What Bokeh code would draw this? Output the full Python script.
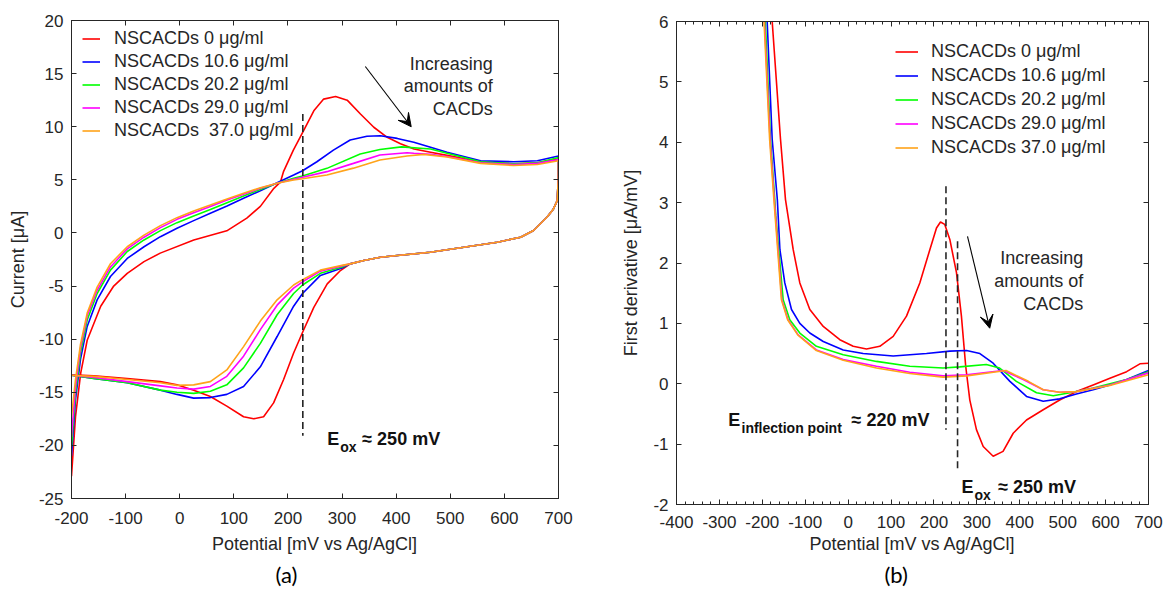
from bokeh.plotting import figure
from bokeh.models import (Range1d, LinearAxis, FixedTicker, Legend, LegendItem,
                          Label, Arrow, VeeHead, Title)
from bokeh.embed import file_html
from bokeh.resources import INLINE
from bokeh.core.properties import value

FONT = "Liberation Sans"
AX = "#262626"

colors = ["#ff0000", "#0000ff", "#00ff00", "#ff00ff", "#ffa31a"]
labels_a = ["NSCACDs 0 μg/ml", "NSCACDs 10.6 μg/ml", "NSCACDs 20.2 μg/ml",
            "NSCACDs 29.0 μg/ml", "NSCACDs  37.0 μg/ml"]
labels_b = ["NSCACDs 0 μg/ml", "NSCACDs 10.6 μg/ml", "NSCACDs 20.2 μg/ml",
            "NSCACDs 29.0 μg/ml", "NSCACDs 37.0 μg/ml"]

# ---------------- panel (a): cyclic voltammograms ----------------
xticks_a = [-200, -100, 0, 100, 200, 300, 400, 500, 600, 700]
xticklabels_a = ["-200", "-100", "0", "100", "200", "300", "400", "500", "600", "700"]
yticks_a = [-25, -20, -15, -10, -5, 0, 5, 10, 15, 20]
yticklabels_a = ["-25", "-20", "-15", "-10", "-5", "0", "5", "10", "15", "20"]

# shared return (lower) branch from 700 mV down to ~315 mV
lower_common_x = [699.5, 697.6, 690, 679, 665, 654, 630, 587, 525, 463, 402, 371, 340, 315]
lower_common_y = [5.0, 3.05, 2.2, 1.5, 0.8, 0.23, -0.4, -0.87, -1.35, -1.82, -2.13, -2.29, -2.6, -2.91]

red_up_x = [-200, -192.6, -183, -171, -146, -122, -97, -66, -36, 26, 87, 124, 149, 174, 186, 192,
            210, 227.5, 247.8, 266, 288, 309.5, 334, 358.7, 383.4, 408, 433, 463.5, 494, 556, 617, 661, 700]
red_up_y = [-22.9, -17.3, -13.2, -10.1, -6.9, -5.0, -3.8, -2.7, -1.9, -0.66, 0.2, 1.4, 2.5, 4.2, 4.78, 5.8,
            7.8, 9.5, 11.5, 12.6, 12.84, 12.5, 11.2, 9.95, 9.0, 8.4, 7.9, 7.6, 7.3, 6.7, 6.5, 6.6, 6.95]
red_lo_x = [297, 272.6, 247.8, 227.5, 210.5, 192, 173.5, 155, 136.6, 118, 87, 56.6, 25.8, -5, -35.7,
            -97, -158.8, -200]
red_lo_y = [-3.54, -4.8, -7.0, -9.3, -11.3, -13.8, -16.0, -17.3, -17.5, -17.3, -16.3, -15.4, -14.8,
            -14.3, -14.0, -13.7, -13.45, -13.35]

blue_up_x = [-200, -192.6, -183.4, -171, -152.6, -128, -97, -66, -35.7, -5, 25.8, 56.6, 87.4, 118, 149,
             180, 210.5, 227, 253.5, 284, 315, 346, 371, 402, 432.6, 463.5, 494, 556, 617, 661, 700]
blue_up_y = [-21.0, -15.7, -11.9, -8.8, -6.3, -4.1, -2.4, -1.3, -0.35, 0.44, 1.16, 1.85, 2.54, 3.26, 3.98,
             4.73, 5.45, 5.86, 6.7, 7.8, 8.75, 9.1, 9.15, 8.9, 8.54, 8.07, 7.6, 6.8, 6.7, 6.8, 7.25]
blue_lo_x = [300, 260, 227, 210.5, 180, 149, 118, 87, 56.6, 25.8, -5, -35.7, -97, -158.8, -200]
blue_lo_y = [-3.3, -4.0, -5.7, -6.9, -9.75, -12.6, -14.45, -15.2, -15.5, -15.55, -15.2, -14.8, -14.1,
             -13.7, -13.4]

green_up_x = [-200, -192.6, -183.4, -171, -152.6, -128, -97, -66, -35.7, -5, 25.8, 56.6, 87.4, 118, 149,
              180, 210.5, 227, 272, 333.5, 370, 410, 463.5, 494, 556, 617, 661, 700]
green_up_y = [-20.1, -15.1, -11.3, -8.2, -5.7, -3.5, -1.75, -0.66, 0.22, 0.97, 1.6, 2.2, 2.85, 3.48, 4.1,
              4.67, 5.14, 5.36, 6.08, 7.43, 7.85, 8.1, 7.9, 7.5, 6.7, 6.5, 6.6, 7.1]
green_lo_x = [300, 260, 227, 210.5, 180, 149, 118, 87, 56.6, 25.8, -5, -35.7, -97, -158.8, -200]
green_lo_y = [-3.2, -3.8, -4.9, -5.7, -7.7, -10.4, -12.7, -14.3, -14.9, -15.1, -15.0, -14.8, -14.1,
              -13.7, -13.4]

magenta_up_x = [-200, -192.6, -183.4, -171, -152.6, -128, -97, -66, -35.7, -5, 25.8, 56.6, 87.4, 118, 149,
                180, 210.5, 227, 272, 321, 370, 420, 432.6, 463.5, 494, 556, 617, 661, 700]
magenta_up_y = [-19.2, -14.5, -10.85, -7.8, -5.4, -3.2, -1.5, -0.4, 0.5, 1.28, 1.9, 2.5, 3.1, 3.64, 4.2,
                4.67, 5.05, 5.24, 5.77, 6.55, 7.34, 7.55, 7.5, 7.4, 7.2, 6.6, 6.45, 6.55, 6.9]
magenta_lo_x = [300, 260, 227, 210.5, 180, 149, 118, 87, 56.6, 25.8, -5, -35.7, -97, -158.8, -200]
magenta_lo_y = [-3.1, -3.6, -4.6, -5.2, -6.8, -9.1, -11.6, -13.5, -14.45, -14.7, -14.6, -14.4, -14.0,
                -13.6, -13.4]

orange_up_x = [-200, -192.6, -183.4, -171, -152.6, -128, -97, -66, -35.7, -5, 25.8, 56.6, 87.4, 118, 149,
               180, 210.5, 227, 272, 321, 370, 420, 451, 494, 556, 617, 661, 700]
orange_up_y = [-17.3, -13.8, -10.5, -7.55, -5.1, -2.9, -1.3, -0.2, 0.69, 1.44, 2.07, 2.63, 3.2, 3.73, 4.26,
               4.67, 4.98, 5.1, 5.45, 6.1, 6.87, 7.24, 7.4, 7.15, 6.55, 6.35, 6.45, 6.8]
orange_lo_x = [300, 260, 227, 210.5, 180, 149, 118, 87, 56.6, 25.8, -5, -35.7, -97, -158.8, -200]
orange_lo_y = [-3.05, -3.5, -4.4, -4.9, -6.3, -8.3, -10.7, -12.9, -14.0, -14.3, -14.35, -14.1, -13.8,
               -13.5, -13.4]

# annotation anchors (data units) for panel (a)
eox_a_x = 227.5
eox_a_y = [11.2, -19.1]

# ---------------- panel (b): first derivative ----------------
xticks_b = [-400, -300, -200, -100, 0, 100, 200, 300, 400, 500, 600, 700]
xticklabels_b = ["-400", "-300", "-200", "-100", "0", "100", "200", "300", "400", "500", "600", "700"]
xminor_b = list(range(-400, 701, 20))
yticks_b = [-2, -1, 0, 1, 2, 3, 4, 5, 6]
yticklabels_b = ["-2", "-1", "0", "1", "2", "3", "4", "5", "6"]

red_d_x = [-177, -157.6, -146, -128, -112.6, -89.3, -58, -19.4, 11.8, 42.8, 73.8, 105, 136, 167, 190.4,
           205.9, 215.2, 225, 237, 252.5, 264, 274, 283.6, 299, 314.8, 338, 361, 384.7, 415.7, 454.6,
           493, 532, 571, 610, 649, 680, 700]
red_d_y = [6.0, 4.05, 3.05, 2.22, 1.67, 1.23, 0.95, 0.73, 0.62, 0.576, 0.62, 0.785, 1.12, 1.67, 2.22,
           2.58, 2.68, 2.64, 2.39, 1.84, 1.12, 0.29, -0.27, -0.76, -1.04, -1.2, -1.12, -0.82, -0.6, -0.43,
           -0.27, -0.13, -0.02, 0.09, 0.2, 0.33, 0.34]

blue_d_x = [-188.7, -177, -165, -159, -147.6, -132, -112.6, -89.3, -58, -11.5, 35, 105, 182.6, 237, 276,
            307, 338, 377, 415.7, 454.6, 493, 532, 571, 610, 649, 700]
blue_d_y = [6.0, 4.05, 3.05, 2.22, 1.67, 1.23, 1.0, 0.84, 0.70, 0.56, 0.50, 0.46, 0.50, 0.54, 0.55,
            0.50, 0.34, 0.04, -0.21, -0.29, -0.25, -0.17, -0.10, -0.02, 0.07, 0.22]

green_d_x = [-193, -181, -171, -168.6, -151.4, -136, -112.6, -74, -11.5, 66, 143.7, 221.5, 260, 322, 353,
             392, 439, 478, 517, 571, 649, 700]
green_d_y = [6.0, 4.05, 3.05, 2.78, 1.39, 1.06, 0.84, 0.62, 0.48, 0.37, 0.29, 0.26, 0.28, 0.32, 0.26,
             0.04, -0.15, -0.2, -0.15, -0.07, 0.07, 0.2]

magenta_d_x = [-195, -182, -172, -154.5, -140, -116.5, -74, -11.5, 66, 143.7, 221.5, 276, 361, 408,
               454.6, 493, 532, 610, 700]
magenta_d_y = [6.0, 4.05, 3.05, 1.39, 1.06, 0.81, 0.56, 0.40, 0.29, 0.19, 0.13, 0.15, 0.22, 0.07,
               -0.10, -0.14, -0.13, -0.02, 0.18]

orange_d_x = [-196, -183, -173, -155.5, -141, -117.5, -74, -11.5, 66, 143.7, 221.5, 276, 368, 420,
              454.6, 493, 532, 610, 700]
orange_d_y = [6.0, 4.05, 3.05, 1.39, 1.06, 0.81, 0.55, 0.39, 0.26, 0.17, 0.11, 0.13, 0.22, 0.04,
              -0.10, -0.14, -0.13, -0.03, 0.15]

infl_b_x = 228
infl_b_y = [3.27, -0.76]
eox_b_x = 255
eox_b_y = [2.36, -1.46]


def style_axis(ax, show_labels=True, minor=False, tick_standoff=11, label_standoff=6, overrides=None):
    ax.axis_line_color = AX
    ax.major_tick_line_color = AX
    ax.minor_tick_line_color = AX if minor else None
    ax.major_tick_in = 5
    ax.major_tick_out = 0
    ax.minor_tick_in = 3
    ax.minor_tick_out = 0
    ax.major_label_text_font = FONT
    ax.major_label_text_font_size = "17px"
    ax.major_label_text_color = AX
    ax.major_label_standoff = tick_standoff
    ax.axis_label_text_font = FONT
    ax.axis_label_text_font_size = "18px"
    ax.axis_label_text_font_style = "normal"
    ax.axis_label_text_color = AX
    ax.axis_label_standoff = label_standoff
    if overrides:
        ax.major_label_overrides = overrides
    if not show_labels:
        ax.major_label_text_font_size = "0px"
        ax.major_label_text_color = None
        ax.major_label_standoff = 0


def make_fig(width, height, xr, yr, borders, xt, xtl, yt, ytl, xminor, xlabel, ylabel,
             xstand, xlstand, ylstand):
    l, r, t, b = borders
    p = figure(width=width, height=height, x_range=Range1d(*xr), y_range=Range1d(*yr),
               output_backend="svg", toolbar_location=None, x_axis_type=None, y_axis_type=None,
               min_border_left=l, min_border_right=r, min_border_top=t, min_border_bottom=b)
    p.outline_line_color = AX
    p.outline_line_width = 1
    p.background_fill_color = "white"
    p.border_fill_color = "white"
    xtick = FixedTicker(ticks=xt, minor_ticks=xminor or [])
    ytick = FixedTicker(ticks=yt, minor_ticks=[])
    xover = {t: s for t, s in zip(xt, xtl)}
    yover = {t: s for t, s in zip(yt, ytl)}
    xb = LinearAxis(ticker=xtick, axis_label=xlabel)
    style_axis(xb, True, bool(xminor), xstand, xlstand, xover)
    p.add_layout(xb, "below")
    yl = LinearAxis(ticker=ytick, axis_label=ylabel)
    style_axis(yl, True, False, 8, ylstand, yover)
    p.add_layout(yl, "left")
    xa = LinearAxis(ticker=xtick)
    style_axis(xa, False, bool(xminor))
    p.add_layout(xa, "above")
    yr_ax = LinearAxis(ticker=ytick)
    style_axis(yr_ax, False)
    p.add_layout(yr_ax, "right")
    return p


def add_legend(p, renderers, labels, loc, glyph_w, standoff, spacing):
    items = [LegendItem(label=value(lb), renderers=[r]) for lb, r in zip(labels, renderers)]
    leg = Legend(items=items, location=loc, padding=0, margin=0, spacing=spacing,
                 label_height=21, glyph_height=21, glyph_width=glyph_w, label_standoff=standoff,
                 label_text_font=FONT, label_text_font_size="18px", label_text_color=AX,
                 border_line_color=None, background_fill_alpha=0)
    p.add_layout(leg)


def bold_label(p, x, y, text, size, xoff=0):
    p.add_layout(Label(x=x, y=y, text=text, x_offset=xoff, text_font=FONT, text_font_size=size,
                       text_font_style="bold", text_color="#111111", text_align="left",
                       text_baseline="alphabetic"))


def plain_label(p, x, y, text):
    p.add_layout(Label(x=x, y=y, text=text, text_font=FONT, text_font_size="18px",
                       text_color=AX, text_align="right", text_baseline="alphabetic"))


def panel_tag(p, text, offset, standoff):
    p.add_layout(Title(text=text, align="left", offset=offset, text_font="Lato",
                       text_font_size="22px", text_font_style="normal", text_color="black",
                       standoff=standoff), "below")


# ---- build panel (a)  (frame: x 71..558, y 20..498)
pa = make_fig(610, 590, (-200, 700), (-25, 20), (71, 52, 20, 92), xticks_a, xticklabels_a,
              yticks_a, yticklabels_a, None, "Potential [mV vs Ag/AgCl]", "Current [μA]", 13, 7, 8)
series_a = [
    (red_up_x + lower_common_x + red_lo_x, red_up_y + lower_common_y + red_lo_y),
    (blue_up_x + lower_common_x + blue_lo_x, blue_up_y + lower_common_y + blue_lo_y),
    (green_up_x + lower_common_x + green_lo_x, green_up_y + lower_common_y + green_lo_y),
    (magenta_up_x + lower_common_x + magenta_lo_x, magenta_up_y + lower_common_y + magenta_lo_y),
    (orange_up_x + lower_common_x + orange_lo_x, orange_up_y + lower_common_y + orange_lo_y),
]
rend_a = [pa.line(x, y, line_color=c, line_width=1.6) for (x, y), c in zip(series_a, colors)]
pa.segment(x0=[eox_a_x], y0=[eox_a_y[0]], x1=[eox_a_x], y1=[eox_a_y[1]], line_color=AX,
           line_width=1.6, line_dash="7 4")
add_legend(pa, rend_a, labels_a, (11, 357), 18, 14, 2)
pa.add_layout(Arrow(end=VeeHead(size=13, fill_color="black", line_color="black"),
                    x_start=343, y_start=15.67, x_end=427.8, y_end=10.0,
                    line_color="black", line_width=1.1))
plain_label(pa, 578.6, 15.92, "Increasing")
plain_label(pa, 578.6, 13.79, "amounts of")
plain_label(pa, 578.6, 11.69, "CACDs")
bold_label(pa, 272.6, -19.36, "E", "18px")
bold_label(pa, 272.6, -20.18, "ox", "14px", 13)
bold_label(pa, 272.6, -19.36, "≈ 250 mV", "18px", 35)
panel_tag(pa, "(a)", 204, 4)

# ---- build panel (b)  (frame: x 676..1148, y 21..504)
pb = make_fig(556, 591, (-400, 700), (-2, 6), (66, 18, 21, 87), xticks_b, xticklabels_b,
              yticks_b, yticklabels_b, xminor_b, "Potential [mV vs Ag/AgCl]",
              "First derivative [μA/mV]", 11, 3, 9)
series_b = [(red_d_x, red_d_y), (blue_d_x, blue_d_y), (green_d_x, green_d_y),
            (magenta_d_x, magenta_d_y), (orange_d_x, orange_d_y)]
rend_b = [pb.line(x, y, line_color=c, line_width=1.6) for (x, y), c in zip(series_b, colors)]
pb.segment(x0=[infl_b_x, eox_b_x], y0=[infl_b_y[0], eox_b_y[0]], x1=[infl_b_x, eox_b_x],
           y1=[infl_b_y[1], eox_b_y[1]], line_color=AX, line_width=1.6, line_dash="7 4")
add_legend(pb, rend_b, labels_b, (219, 346), 23, 13, 3)
pb.add_layout(Arrow(end=VeeHead(size=13, fill_color="black", line_color="black"),
                    x_start=278.2, y_start=2.44, x_end=330, y_end=0.92,
                    line_color="black", line_width=1.1))
plain_label(pb, 547.8, 2.087, "Increasing")
plain_label(pb, 547.8, 1.71, "amounts of")
plain_label(pb, 547.8, 1.328, "CACDs")
bold_label(pb, -279.5, -0.598, "E", "18px")
bold_label(pb, -279.5, -0.726, "inflection point", "14px", 13.3)
bold_label(pb, -279.5, -0.598, "≈ 220 mV", "18px", 123.3)
bold_label(pb, 264.2, -1.705, "E", "18px")
bold_label(pb, 264.2, -1.843, "ox", "14px", 13)
bold_label(pb, 264.2, -1.705, "≈ 250 mV", "18px", 36.7)
panel_tag(pb, "(b)", 208, 5)

# two independent roots placed side by side, so each panel keeps its own frame geometry
side_by_side = """
{% block postamble %}
<style>
  body { display: flex; flex-direction: row; align-items: flex-start; }
</style>
{% endblock %}
"""
open("out.html", "w").write(file_html([pa, pb], INLINE, template=side_by_side))
